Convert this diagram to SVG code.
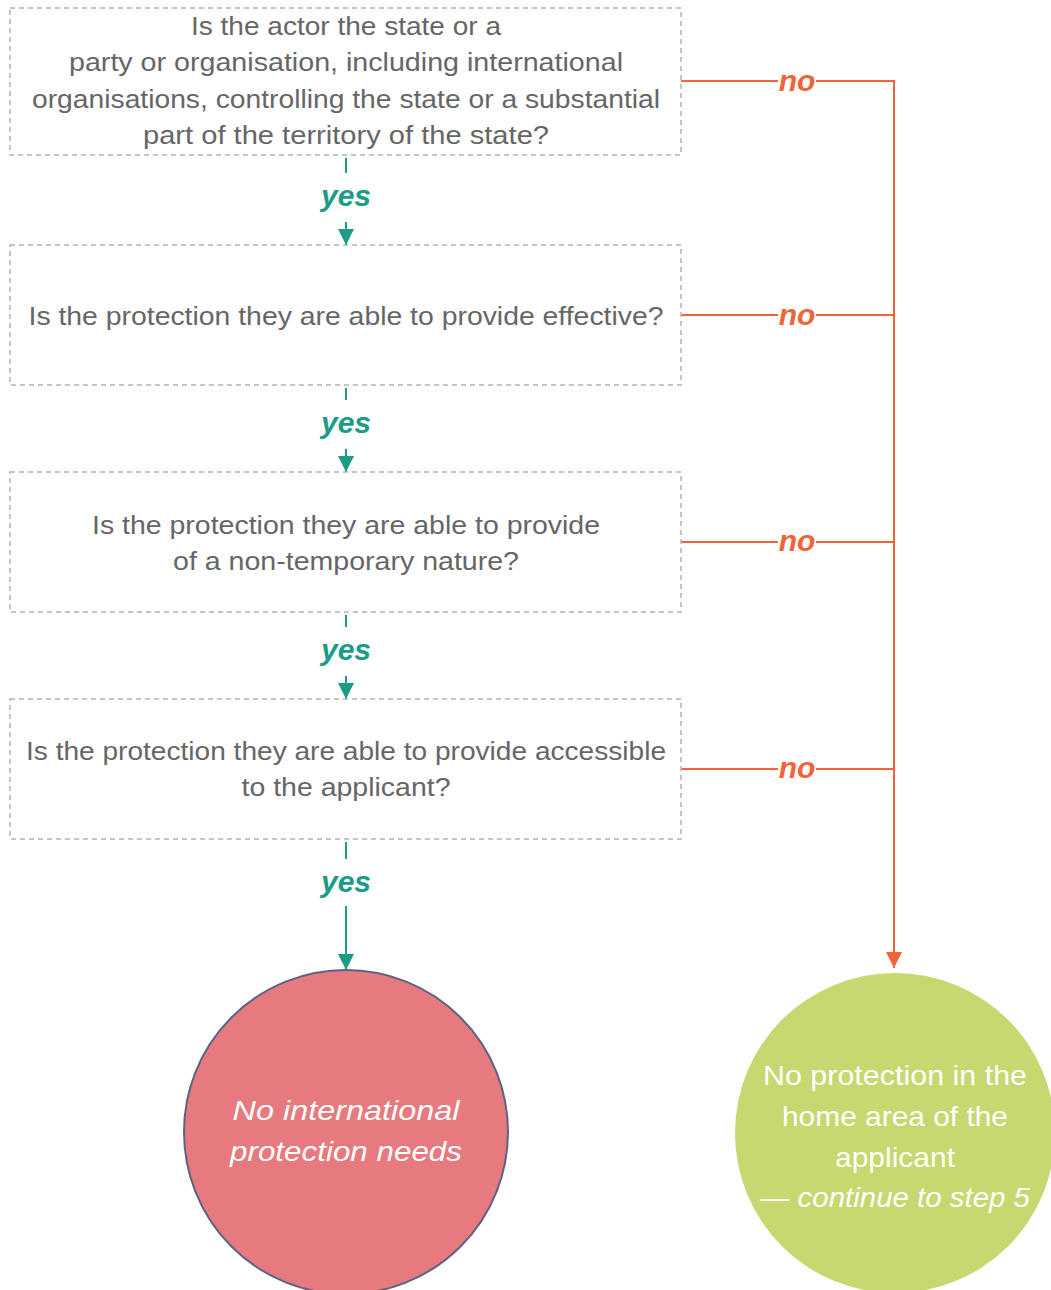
<svg xmlns="http://www.w3.org/2000/svg" width="1051" height="1290" viewBox="0 0 1051 1290">
  <style>
    .box { fill: #ffffff; stroke: #b3b3b3; stroke-width: 1.5; stroke-dasharray: 5 4; }
    .q { font-family: "Liberation Sans", Arial, sans-serif; font-size: 25px; fill: #666666; text-anchor: middle; }
    .yes { font-family: "Liberation Sans", Arial, sans-serif; font-size: 30px; font-weight: bold; font-style: italic; fill: #1b9c87; text-anchor: middle; }
    .no { font-family: "Liberation Sans", Arial, sans-serif; font-size: 30px; font-weight: bold; font-style: italic; fill: #f0643a; text-anchor: middle; }
    .yl { stroke: #1b9c87; stroke-width: 2; fill: none; }
    .nl { stroke: #f0643a; stroke-width: 2; fill: none; }
    .end { font-family: "Liberation Sans", Arial, sans-serif; font-size: 28px; fill: #ffffff; text-anchor: middle; }
  </style>
  <defs>
    <marker id="arrY" markerWidth="8" markerHeight="8" viewBox="0 0 10 10" refX="10" refY="5" orient="auto" markerUnits="strokeWidth">
      <path d="M0,0 L10,5 L0,10 z" fill="#1b9c87"/>
    </marker>
    <marker id="arrN" markerWidth="8" markerHeight="8" viewBox="0 0 10 10" refX="10" refY="5" orient="auto" markerUnits="strokeWidth">
      <path d="M0,0 L10,5 L0,10 z" fill="#f0643a"/>
    </marker>
  </defs>

  <!-- connectors -->
  <g id="connectors">
    <!-- yes chain -->
    <line class="yl" x1="346" y1="158" x2="346" y2="173"/>
    <line class="yl" x1="346" y1="222" x2="346" y2="245" marker-end="url(#arrY)"/>
    <line class="yl" x1="346" y1="388" x2="346" y2="400"/>
    <line class="yl" x1="346" y1="449" x2="346" y2="472" marker-end="url(#arrY)"/>
    <line class="yl" x1="346" y1="615" x2="346" y2="627"/>
    <line class="yl" x1="346" y1="676" x2="346" y2="699" marker-end="url(#arrY)"/>
    <line class="yl" x1="346" y1="842" x2="346" y2="859"/>
    <line class="yl" x1="346" y1="906" x2="346" y2="970" marker-end="url(#arrY)"/>
    <text class="yes" x="346" y="206">yes</text>
    <text class="yes" x="346" y="433">yes</text>
    <text class="yes" x="346" y="660">yes</text>
    <text class="yes" x="346" y="892">yes</text>

    <!-- no branches -->
    <path class="nl" d="M681,81 H778 M816,81 H894 V968" marker-end="url(#arrN)"/>
    <path class="nl" d="M681,315 H778 M816,315 H894"/>
    <path class="nl" d="M681,542 H778 M816,542 H894"/>
    <path class="nl" d="M681,769 H778 M816,769 H894"/>
    <text class="no" x="797" y="91">no</text>
    <text class="no" x="797" y="325">no</text>
    <text class="no" x="797" y="551">no</text>
    <text class="no" x="797" y="778">no</text>
  </g>

  <!-- question boxes -->
  <g id="q1">
    <rect class="box" x="10" y="8" width="671" height="147"/>
    <text class="q" x="346" y="35" textLength="310" lengthAdjust="spacingAndGlyphs">Is the actor the state or a</text>
    <text class="q" x="346" y="71" textLength="554" lengthAdjust="spacingAndGlyphs">party or organisation, including international</text>
    <text class="q" x="346" y="108" textLength="628" lengthAdjust="spacingAndGlyphs">organisations, controlling the state or a substantial</text>
    <text class="q" x="346" y="144" textLength="406" lengthAdjust="spacingAndGlyphs">part of the territory of the state?</text>
  </g>
  <g id="q2">
    <rect class="box" x="10" y="245" width="671" height="140"/>
    <text class="q" x="346" y="325" textLength="635" lengthAdjust="spacingAndGlyphs">Is the protection they are able to provide effective?</text>
  </g>
  <g id="q3">
    <rect class="box" x="10" y="472" width="671" height="140"/>
    <text class="q" x="346" y="534" textLength="508" lengthAdjust="spacingAndGlyphs">Is the protection they are able to provide</text>
    <text class="q" x="346" y="570" textLength="346" lengthAdjust="spacingAndGlyphs">of a non-temporary nature?</text>
  </g>
  <g id="q4">
    <rect class="box" x="10" y="699" width="671" height="140"/>
    <text class="q" x="346" y="760" textLength="640" lengthAdjust="spacingAndGlyphs">Is the protection they are able to provide accessible</text>
    <text class="q" x="346" y="796" textLength="209" lengthAdjust="spacingAndGlyphs">to the applicant?</text>
  </g>

  <!-- outcomes -->
  <g id="no-needs">
    <circle cx="346" cy="1132" r="162" fill="#e67a7e" stroke="#5d6382" stroke-width="2"/>
    <text class="end" x="346" y="1120" font-style="italic" textLength="227" lengthAdjust="spacingAndGlyphs">No international</text>
    <text class="end" x="346" y="1161" font-style="italic" textLength="232" lengthAdjust="spacingAndGlyphs">protection needs</text>
  </g>
  <g id="no-protection">
    <circle cx="895" cy="1133" r="160" fill="#c6d86f"/>
    <text class="end" x="895" y="1085" textLength="264" lengthAdjust="spacingAndGlyphs">No protection in the</text>
    <text class="end" x="895" y="1126" textLength="226" lengthAdjust="spacingAndGlyphs">home area of the</text>
    <text class="end" x="895" y="1167" textLength="120" lengthAdjust="spacingAndGlyphs">applicant</text>
    <text class="end" x="895" y="1207" textLength="270" lengthAdjust="spacingAndGlyphs">— <tspan font-style="italic">continue to step 5</tspan></text>
  </g>
</svg>
